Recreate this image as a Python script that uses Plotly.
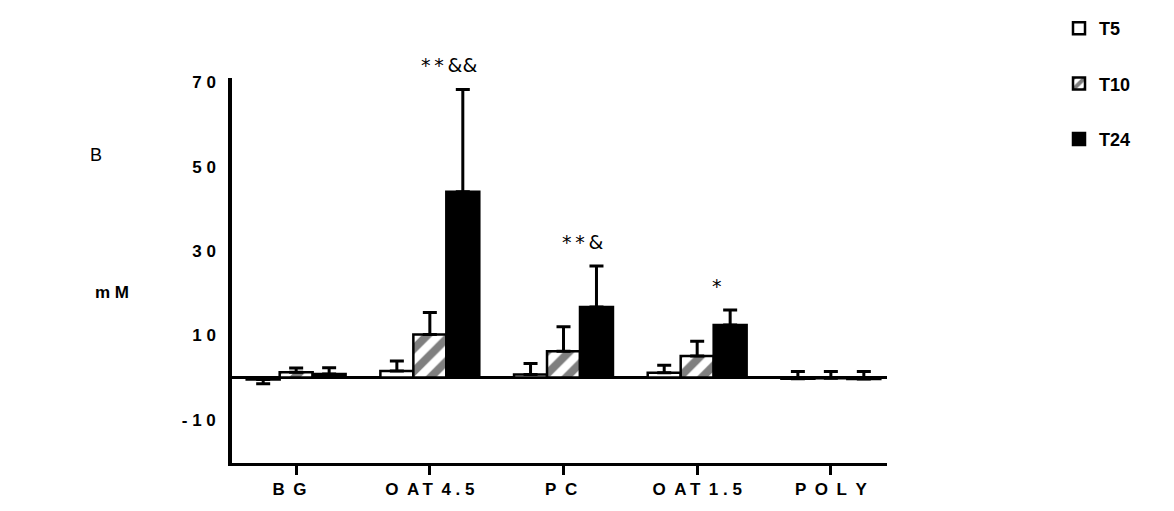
import plotly.graph_objects as go

categories = ["BG", "OAT4.5", "PC", "OAT1.5", "POLY"]
ts = "\u2009"   # thin space
es = "\u2002"   # en space
nb = "\u00a0"   # no-break space
cat_labels = ["B" + es + "G" + es + nb,
              "O" + es + "A" + ts + "T" + es + "4" + nb + "." + nb + "5",
              "P" + es + "C" + nb,
              "O" + es + "A" + ts + "T" + es + "1" + nb + "." + nb + "5",
              "P" + es + "O" + es + "L" + es + "Y"]
series_names = ["T5", "T10", "T24"]
t5_vals = [-0.5, 1.5, 0.7, 1.1, -0.3]
t5_err_up = [0.0, 2.4, 2.6, 1.8, 1.7]
t5_err_down = [1.0, 0.0, 0.0, 0.0, 0.0]
t10_vals = [1.2, 10.2, 6.2, 5.1, -0.2]
t10_err_up = [1.0, 5.2, 5.8, 3.5, 1.6]
t10_err_down = [0.0, 0.0, 0.0, 0.0, 0.0]
t24_vals = [0.8, 44.0, 16.7, 12.4, -0.4]
t24_err_up = [1.5, 24.3, 9.7, 3.6, 1.8]
t24_err_down = [0.0, 0.0, 0.0, 0.0, 0.0]
y_tickvals = [-10, 10, 30, 50, 70]
y_ticktext = ["-" + nb + "1" + nb + "0", "1" + nb + "0", "3" + nb + "0", "5" + nb + "0", "7" + nb + "0"]
sig_labels = {1: "*" + ts + "*" + ts + "&&", 2: "*" + ts + "*" + ts + "&", 3: "*"}

fills = ["white", "white", "black"]
patterns = ["", "/", ""]
vals_all = [t5_vals, t10_vals, t24_vals]
up_all = [t5_err_up, t10_err_up, t24_err_up]
down_all = [t5_err_down, t10_err_down, t24_err_down]

fig = go.Figure()
for i, name in enumerate(series_names):
    fig.add_trace(go.Bar(
        x=categories, y=vals_all[i], name=name, legendgroup=name,
        marker=dict(color=fills[i], line=dict(color="black", width=2.5),
                    pattern=dict(shape=patterns[i], fgcolor="black", bgcolor="white",
                                 size=16, solidity=0.5)),
        error_y=dict(type="data", array=up_all[i], arrayminus=down_all[i], symmetric=False,
                     color="black", thickness=3, width=7),
    ))

bargap = 0.26
bw = (1 - bargap) / 3
for idx, txt in sig_labels.items():
    top = t24_vals[idx] + t24_err_up[idx]
    fig.add_annotation(x=idx + bw - 0.1, y=top, xref="x", yref="y", text=txt,
                       showarrow=False, xanchor="center", yanchor="bottom", yshift=11,
                       font=dict(family="DejaVu Sans, Liberation Sans", size=19, color="black"))

L, R, T, B = 232, 287, 78, 48
W, H = 1174, 511
pw, ph = W - L - R, H - T - B
def px(x): return (x - L) / pw
def py(y): return (H - B - y) / ph

fig.add_annotation(x=px(96), y=py(155), xref="paper", yref="paper", text="B",
                   showarrow=False, xanchor="center", yanchor="middle",
                   font=dict(family="Liberation Sans, Arial", size=18, color="black"))
fig.add_annotation(x=px(112), y=py(292), xref="paper", yref="paper", text="m" + nb + "M",
                   showarrow=False, xanchor="center", yanchor="middle",
                   font=dict(family="Liberation Sans, Arial", size=17, color="black", weight="bold"))

fig.update_layout(
    width=W, height=H, margin=dict(l=L, r=R, t=T, b=B, autoexpand=False),
    paper_bgcolor="white", plot_bgcolor="white",
    barmode="group", bargap=bargap, bargroupgap=0,
    showlegend=True,
    legend=dict(x=px(1059), y=py(10), xanchor="left", yanchor="top",
                traceorder="grouped", tracegroupgap=29,
                font=dict(family="Liberation Sans Narrow, Arial Narrow, Liberation Sans", size=18,
                          color="black", weight="bold")),
    xaxis=dict(type="category", range=[-0.48, 4.42], showline=True, linecolor="black", linewidth=3,
               ticks="outside", ticklen=9, tickwidth=3, tickcolor="black",
               tickvals=categories, ticktext=cat_labels,
               tickfont=dict(family="Liberation Sans, Arial", size=17, color="black", weight="bold"),
               showgrid=False, zeroline=False),
    yaxis=dict(range=[-20.3, 71.0], showline=True, linecolor="black", linewidth=3.5,
               ticks="", tickvals=y_tickvals, ticktext=y_ticktext, ticklabelstandoff=9,
               tickfont=dict(family="Liberation Sans, Arial", size=17, color="black", weight="bold"),
               showgrid=False, zeroline=True, zerolinecolor="black", zerolinewidth=3),
)

fig.write_html("out.html")
